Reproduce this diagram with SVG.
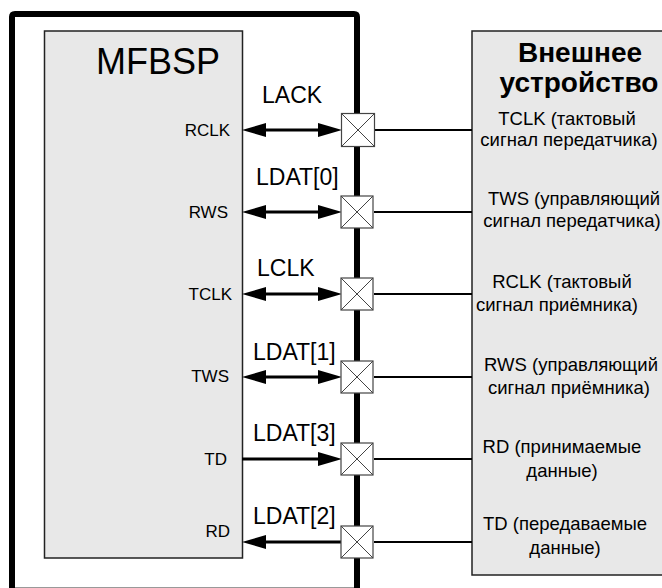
<svg xmlns="http://www.w3.org/2000/svg" width="662" height="588" viewBox="0 0 662 588">
<style>
text{font-family:"Liberation Sans",Arial,sans-serif;fill:#000}
.pin{font-size:17px;text-anchor:end}
.sig{font-size:23px}
.ext{font-size:18.5px;text-anchor:middle}
.ttl{font-size:28px;font-weight:bold;text-anchor:middle}
.blk{fill:#e8e8e8;stroke:#222;stroke-width:1.5}
.bus{stroke:#000;stroke-width:3;fill:none}
.wire{stroke:#000;stroke-width:2;fill:none}
.pad rect{fill:#fff;stroke:#444;stroke-width:1.2}
.pad path{stroke:#444;stroke-width:1;fill:none}
</style>
<defs>
<marker id="ah" markerUnits="userSpaceOnUse" markerWidth="24" markerHeight="14" refX="0" refY="7" orient="auto-start-reverse" viewBox="0 0 24 14">
<path d="M0,0 L24,7 L0,14 z" fill="#000"/>
</marker>
</defs>
<rect width="662" height="588" fill="#fff"/>
<g id="frame">
<path d="M12,590 L12,17 Q12,14 15,14 L354,14 Q357,14 357,17 L357,590" fill="none" stroke="#000" stroke-width="6"/>
<line x1="15" y1="587.5" x2="354" y2="587.5" stroke="#999" stroke-width="1"/>
</g>
<g id="mfbsp">
<rect class="blk" x="44.5" y="31" width="198" height="527"/>
<text x="220" y="74" style="font-size:36px;text-anchor:end">MFBSP</text>
<text class="pin" x="230" y="136">RCLK</text>
<text class="pin" x="228" y="218">RWS</text>
<text class="pin" x="232" y="300">TCLK</text>
<text class="pin" x="229" y="382">TWS</text>
<text class="pin" x="227" y="465">TD</text>
<text class="pin" x="230" y="537">RD</text>
</g>
<g id="external">
<rect class="blk" x="472" y="31" width="200" height="544"/>
<text class="ttl" x="580" y="62">Внешнее</text>
<text class="ttl" x="579" y="92">устройство</text>
<text class="ext" x="567" y="125">TCLK (тактовый</text>
<text class="ext" x="569" y="146">сигнал передатчика)</text>
<text class="ext" x="574" y="205">TWS (управляющий</text>
<text class="ext" x="572" y="227">сигнал передатчика)</text>
<text class="ext" x="562" y="288">RCLK (тактовый</text>
<text class="ext" x="557" y="311">сигнал приёмника)</text>
<text class="ext" x="571" y="371">RWS (управляющий</text>
<text class="ext" x="569" y="394">сигнал приёмника)</text>
<text class="ext" x="562" y="453">RD (принимаемые</text>
<text class="ext" x="562" y="477">данные)</text>
<text class="ext" x="565" y="530">TD (передаваемые</text>
<text class="ext" x="565" y="554">данные)</text>
</g>
<g id="connectors">
<line class="bus" x1="266" y1="130" x2="318" y2="130" marker-start="url(#ah)" marker-end="url(#ah)"/>
<line class="bus" x1="266" y1="212" x2="318" y2="212" marker-start="url(#ah)" marker-end="url(#ah)"/>
<line class="bus" x1="266" y1="294" x2="318" y2="294" marker-start="url(#ah)" marker-end="url(#ah)"/>
<line class="bus" x1="266" y1="377" x2="318" y2="377" marker-start="url(#ah)" marker-end="url(#ah)"/>
<line class="bus" x1="242" y1="459" x2="318" y2="459" marker-end="url(#ah)"/>
<line class="bus" x1="266" y1="542" x2="341" y2="542" marker-start="url(#ah)"/>
<line class="wire" x1="374" y1="130" x2="472" y2="130"/>
<line class="wire" x1="374" y1="212" x2="472" y2="212"/>
<line class="wire" x1="374" y1="294" x2="472" y2="294"/>
<line class="wire" x1="374" y1="377" x2="472" y2="377"/>
<line class="wire" x1="374" y1="459" x2="472" y2="459"/>
<line class="wire" x1="374" y1="542" x2="472" y2="542"/>
</g>
<g id="labels">
<text class="sig" x="262" y="103">LACK</text>
<text class="sig" x="256" y="185">LDAT[0]</text>
<text class="sig" x="257" y="276">LCLK</text>
<text class="sig" x="253" y="360">LDAT[1]</text>
<text class="sig" x="253" y="441">LDAT[3]</text>
<text class="sig" x="253" y="524">LDAT[2]</text>
</g>
<g id="pads" class="pad">
<g id="pad1"><rect x="341.5" y="113.5" width="33" height="33"/><path d="M341.5,113.5 L374.5,146.5 M374.5,113.5 L341.5,146.5"/></g>
<g id="pad2"><rect x="341" y="196" width="32" height="32"/><path d="M341,196 L373,228 M373,196 L341,228"/></g>
<g id="pad3"><rect x="341" y="278" width="32" height="32"/><path d="M341,278 L373,310 M373,278 L341,310"/></g>
<g id="pad4"><rect x="341" y="361" width="32" height="32"/><path d="M341,361 L373,393 M373,361 L341,393"/></g>
<g id="pad5"><rect x="341" y="443" width="32" height="32"/><path d="M341,443 L373,475 M373,443 L341,475"/></g>
<g id="pad6"><rect x="341" y="526" width="32" height="32"/><path d="M341,526 L373,558 M373,526 L341,558"/></g>
</g>
</svg>
